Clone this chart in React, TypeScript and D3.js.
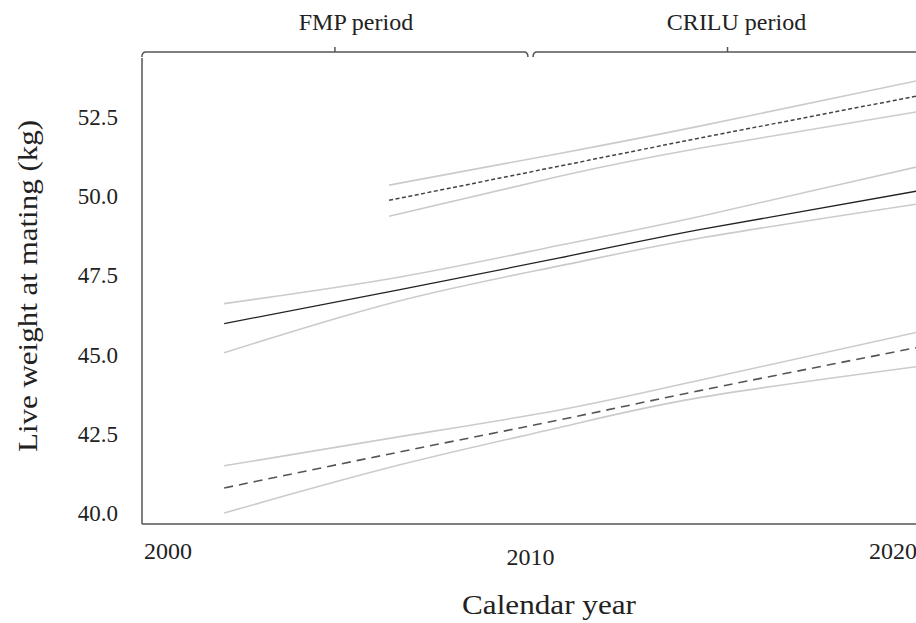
import React from "react";
import * as d3 from "d3";

// ---- data ----
const yearsLong = [2001.55, 2006.4, 2010.8, 2014.7, 2020.65];
const yearsShort = [2006.1, 2010.8, 2014.7, 2020.65];

// middle group (solid)
const solidMean = [45.98, 47.05, 48.05, 48.95, 50.16];
const solidUpper = [46.61, 47.45, 48.45, 49.37, 50.92];
const solidLower = [45.06, 46.7, 47.8, 48.68, 49.75];

// upper group (fine dashed)
const fineMean = [49.87, 50.95, 51.84, 53.16];
const fineUpper = [50.35, 51.35, 52.22, 53.64];
const fineLower = [49.37, 50.63, 51.52, 52.66];

// lower group (long dashed)
const longMean = [40.79, 41.93, 42.94, 43.87, 45.22];
const longUpper = [41.49, 42.41, 43.25, 44.2, 45.7];
const longLower = [40.0, 41.52, 42.7, 43.65, 44.62];

const yTicks = [40.0, 42.5, 45.0, 47.5, 50.0, 52.5];
const xTicks = [2000, 2010, 2020];
const periodLabels = ["FMP period", "CRILU period"];
const periodStart = [1999.28, 2010.07];
const periodEnd = [2009.93, 2020.8];

const W = 916;
const H = 623;

export default function App() {
  const x = d3.scaleLinear().domain([2000, 2020]).range([168, 893]);
  const y = d3.scaleLinear().domain([40, 52.5]).range([513, 117]);
  const axisLeft = 142;
  const axisBottom = 524;
  const axisTop = 58;

  const line = (xs: number[], ys: number[]) =>
    d3
      .line<number>()
      .x((_, i) => x(xs[i]))
      .y((v) => y(v))
      .curve(d3.curveNatural)(ys) || "";

  const ciStyle = { fill: "none", stroke: "#cbcbcb", strokeWidth: 1.6 };

  const bracketY = 52;
  const labelDx = [21, 9];
  const xLabelDy = [0, 6, 0];

  const font = "Liberation Serif, serif";

  return (
    <svg
      width={W}
      height={H}
      style={{ position: "absolute", left: 0, top: 0, background: "#fff", fontFamily: font }}
    >
      <defs>
        <clipPath id="plotclip">
          <rect x={axisLeft} y={0} width={W - axisLeft} height={axisBottom} />
        </clipPath>
      </defs>

      {/* period brackets */}
      {periodLabels.map((lab, i) => {
        const x0 = x(periodStart[i]);
        const x1 = x(periodEnd[i]);
        const mid = (x0 + x1) / 2;
        const d = `M${x0},${bracketY + 5} Q${x0},${bracketY} ${x0 + 4},${bracketY} L${x1 - 4},${bracketY} Q${x1},${bracketY} ${x1},${bracketY + 5}`;
        return (
          <g key={lab}>
            <path d={d} fill="none" stroke="#555" strokeWidth={1.5} />
            <line x1={mid} x2={mid} y1={bracketY} y2={bracketY - 5} stroke="#555" strokeWidth={1.5} />
            <text
              x={mid + labelDx[i]}
              y={30}
              textAnchor="middle"
              fontSize={24}
              fill="#222"
            >
              {lab}
            </text>
          </g>
        );
      })}

      {/* axes */}
      <line x1={axisLeft} x2={axisLeft} y1={axisTop} y2={axisBottom} stroke="#555" strokeWidth={1.5} />
      <line x1={axisLeft} x2={W} y1={axisBottom} y2={axisBottom} stroke="#555" strokeWidth={1.5} />

      {yTicks.map((t) => (
        <text
          key={t}
          x={118}
          y={y(t)}
          dy="0.35em"
          textAnchor="end"
          fontSize={23}
          fill="#222"
        >
          {d3.format(".1f")(t)}
        </text>
      ))}
      {xTicks.map((t, i) => (
        <text
          key={t}
          x={x(t)}
          y={551 + xLabelDy[i]}
          dy="0.35em"
          textAnchor="middle"
          fontSize={24}
          fill="#222"
        >
          {t}
        </text>
      ))}

      <text x={549} y={604} dy="0.35em" textAnchor="middle" fontSize={28} fill="#222" textLength={174} lengthAdjust="spacingAndGlyphs">
        Calendar year
      </text>
      <text
        transform="translate(27,286) rotate(-90)"
        dy="0.35em"
        textAnchor="middle"
        fontSize={28}
        fill="#222"
        textLength={332}
        lengthAdjust="spacingAndGlyphs"
      >
        Live weight at mating (kg)
      </text>

      <g clipPath="url(#plotclip)">
        {/* CI lines */}
        <path d={line(yearsShort, fineUpper)} {...ciStyle} />
        <path d={line(yearsShort, fineLower)} {...ciStyle} />
        <path d={line(yearsLong, solidUpper)} {...ciStyle} />
        <path d={line(yearsLong, solidLower)} {...ciStyle} />
        <path d={line(yearsLong, longUpper)} {...ciStyle} />
        <path d={line(yearsLong, longLower)} {...ciStyle} />

        {/* means */}
        <path d={line(yearsShort, fineMean)} fill="none" stroke="#444" strokeWidth={1.5} strokeDasharray="4,2.5" />
        <path d={line(yearsLong, solidMean)} fill="none" stroke="#222" strokeWidth={1.3} />
        <path d={line(yearsLong, longMean)} fill="none" stroke="#555" strokeWidth={1.6} strokeDasharray="9,6" />
      </g>
    </svg>
  );
}
